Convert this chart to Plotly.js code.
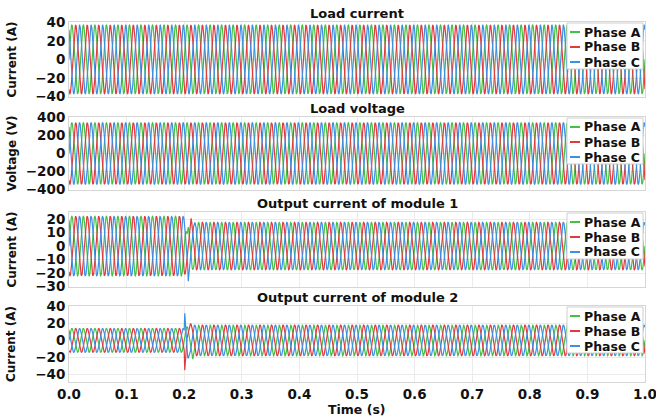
<!DOCTYPE html>
<html>
<head>
<meta charset="utf-8">
<script src="https://cdn.plot.ly/plotly-3.0.1.min.js"></script>
<style>html,body{margin:0;padding:0;background:#fff;}#chart{width:656px;height:416px;}</style>
</head>
<body>
<div id="chart"></div>
<script>
// ---------------- data ----------------
const phaseNames = ['Phase A', 'Phase B', 'Phase C'];
const phaseShiftDeg = [0, -120, 120];
const frequencyHz = [50];
const timeRange = [0, 1];
const loadStepTime = [0.2];

const panelTitles = ['Load current', 'Load voltage', 'Output current of module 1', 'Output current of module 2'];
const yTitles = ['Current (A)', 'Voltage (V)', 'Current (A)', 'Current (A)'];
const xTitle = 'Time (s)';
const xTickVals = [0, 0.1, 0.2, 0.3, 0.4, 0.5, 0.6, 0.7, 0.8, 0.9, 1.0];
const xTickText = ['0.0', '0.1', '0.2', '0.3', '0.4', '0.5', '0.6', '0.7', '0.8', '0.9', '1.0'];

// peak amplitude before / after the load step at 0.2 s
const loadCurrentAmp = [37, 37];
const loadVoltageAmp = [340, 340];
const module1Amp = [22, 17.5];
const module2Amp = [14, 18];

// transient samples around the step
const transientTimes = [0.200, 0.201, 0.202, 0.203, 0.204, 0.205, 0.206, 0.207, 0.208,
                        0.209, 0.210, 0.211, 0.212, 0.213, 0.214, 0.215, 0.216];
const module1TransA = [0, 5, 9, 11, 10, 9, 11, 14, 12, 6, 0, -5.4, -10.3, -14.2, -16.6, -17.5, -16.6];
const module1TransB = [-19, -21, -20, -17, -13, -9, -4, 1, 6, 11, 15.5, 19, 20.5, 18, 13, 8.75, 3.6];
const module1TransC = [19, 15, 9, 3, -2, -6, -14, -26, -21, -17.1, -15.2, -11.7, -7.1, -1.8, 3.6, 8.75, 13];
const module2TransA = [0, 3, 8, 12, 15, 16, 15, 12, 8, 3, -2, -7, -12, -17, -21, -22, -18];
const module2TransB = [-12, -35, -22, -10, -2, 3, 6, 9, 12, 15, 18, 20, 19, 17, 13.4, 9, 3.7];
const module2TransC = [12, 32, 20, 6, -6, -14, -20, -21, -19, -17.6, -15.6, -12, -7.3, -1.9, 3.7, 9, 13.4];

// y-axis ranges / tick steps
const yRanges = [[-40.4, 40.4], [-404, 404], [-30.3, 25.2], [-49, 40.6]];
const yDticks = [20, 200, 10, 20];

// ---------------- styling ----------------
const phaseColors = ['#45c045', '#e2393e', '#3b8fe4'];
const FONT = 'DejaVu Sans, Verdana, sans-serif';
const W = 656, H = 416;
const M = {l: 69, r: 11, t: 22, b: 34};
const plotW = W - M.l - M.r, plotH = H - M.t - M.b;
const panelTopPx = [22, 117, 212, 306];
const panelBotPx = [97, 190, 287, 382];

const px2x = p => (p - M.l) / plotW;
const py2y = p => (H - M.b - p) / plotH;

// ---------------- build series ----------------
const dt = 0.0005;
function buildPhase(amps, phaseIdx, transVals) {
  const xs = [], ys = [];
  const w = 2 * Math.PI * frequencyHz[0];
  const sh = phaseShiftDeg[phaseIdx] * Math.PI / 180;
  const nSteps = Math.round((timeRange[1] - timeRange[0]) / dt);
  const tA = transVals ? transientTimes[0] : null;
  const tB = transVals ? transientTimes[transientTimes.length - 1] : null;
  let inserted = false;
  for (let i = 0; i <= nSteps; i++) {
    const t = +(timeRange[0] + i * dt).toFixed(6);
    if (transVals && t >= tA - 1e-9 && t <= tB + 1e-9) {
      if (!inserted) {
        for (let k = 0; k < transientTimes.length; k++) { xs.push(transientTimes[k]); ys.push(transVals[k]); }
        inserted = true;
      }
      continue;
    }
    const a = t < loadStepTime[0] ? amps[0] : amps[1];
    xs.push(t); ys.push(a * Math.sin(w * t + sh));
  }
  return {xs, ys};
}

const panels = [
  {amps: loadCurrentAmp, trans: null},
  {amps: loadVoltageAmp, trans: null},
  {amps: module1Amp, trans: [module1TransA, module1TransB, module1TransC]},
  {amps: module2Amp, trans: [module2TransA, module2TransB, module2TransC]}
];

const traces = [];
panels.forEach((p, pi) => {
  for (let j = 0; j < 3; j++) {
    const s = buildPhase(p.amps, j, p.trans ? p.trans[j] : null);
    traces.push({
      x: s.xs, y: s.ys, type: 'scatter', mode: 'lines', name: phaseNames[j],
      xaxis: 'x' + (pi === 3 ? '' : (pi + 2)), yaxis: 'y' + (pi === 3 ? '' : (pi + 2)),
      line: {color: phaseColors[j], width: 1.2}, showlegend: false, hoverinfo: 'skip'
    });
  }
});

// ---------------- layout ----------------
const tickFont = {family: FONT, size: 13.5, color: '#111', weight: 'bold'};
const layout = {
  width: W, height: H, margin: M, paper_bgcolor: '#fff', plot_bgcolor: '#fff',
  showlegend: false, shapes: [], annotations: []
};

function axisNames(pi) { return pi === 3 ? ['xaxis', 'yaxis', 'x', 'y'] : ['xaxis' + (pi + 2), 'yaxis' + (pi + 2), 'x' + (pi + 2), 'y' + (pi + 2)]; }

panels.forEach((p, pi) => {
  const [xa, ya, xr, yr] = axisNames(pi);
  const dom = [py2y(panelBotPx[pi]), py2y(panelTopPx[pi])];
  layout[xa] = {
    domain: [0, 1], anchor: yr, range: [timeRange[0], timeRange[1]],
    tickmode: 'array', tickvals: xTickVals, ticktext: xTickText, ticklabeloverflow: 'allow',
    showgrid: true, gridcolor: '#ebebeb', gridwidth: 1, zeroline: false,
    showline: true, mirror: true, linecolor: '#d6d6d6', linewidth: 1,
    showticklabels: pi === 3, tickfont: tickFont, ticks: '', ticklabelstandoff: 0
  };
  if (pi !== 3) layout[xa].matches = 'x';
  layout[ya] = {
    domain: dom, anchor: xr, range: yRanges[pi], dtick: yDticks[pi], tick0: 0,
    showgrid: true, gridcolor: '#ebebeb', gridwidth: 1, zeroline: false,
    showline: true, mirror: true, linecolor: '#d6d6d6', linewidth: 1,
    tickfont: tickFont, ticks: '', ticklabelstandoff: 0
  };
  // panel title
  layout.annotations.push({
    text: panelTitles[pi], xref: 'paper', yref: 'paper', x: 0.5, y: dom[1], xanchor: 'center', yanchor: 'bottom',
    showarrow: false, font: {family: FONT, size: 13, color: '#111', weight: 'bold'}, yshift: -1
  });
  // y title
  layout.annotations.push({
    text: yTitles[pi], xref: 'paper', yref: 'paper', x: px2x(11), y: (dom[0] + dom[1]) / 2,
    xanchor: 'center', yanchor: 'middle', textangle: -90, showarrow: false,
    font: {family: FONT, size: 12, color: '#111', weight: 'bold'}
  });
  // custom legend box
  const top = panelTopPx[pi];
  layout.shapes.push({
    type: 'rect', xref: 'paper', yref: 'paper', layer: 'above',
    x0: px2x(567), x1: px2x(643), y0: py2y(top + 47), y1: py2y(top + 1),
    fillcolor: '#fff', line: {color: '#cfcfcf', width: 1}
  });
  [10, 25, 40].forEach((off, j) => {
    layout.shapes.push({
      type: 'line', xref: 'paper', yref: 'paper', layer: 'above',
      x0: px2x(570), x1: px2x(580), y0: py2y(top + off), y1: py2y(top + off),
      line: {color: phaseColors[j], width: 2}
    });
    layout.annotations.push({
      text: phaseNames[j], xref: 'paper', yref: 'paper', x: px2x(582), y: py2y(top + off),
      xanchor: 'left', yanchor: 'middle', showarrow: false,
      font: {family: FONT, size: 12.5, color: '#111', weight: 'bold'}
    });
  });
});

layout.annotations.push({
  text: xTitle, xref: 'paper', yref: 'paper', x: 0.5, y: py2y(409), xanchor: 'center', yanchor: 'middle',
  showarrow: false, font: {family: FONT, size: 12.5, color: '#111', weight: 'bold'}
});

Plotly.newPlot('chart', traces, layout, {staticPlot: true, displayModeBar: false});
</script>
</body>
</html>
